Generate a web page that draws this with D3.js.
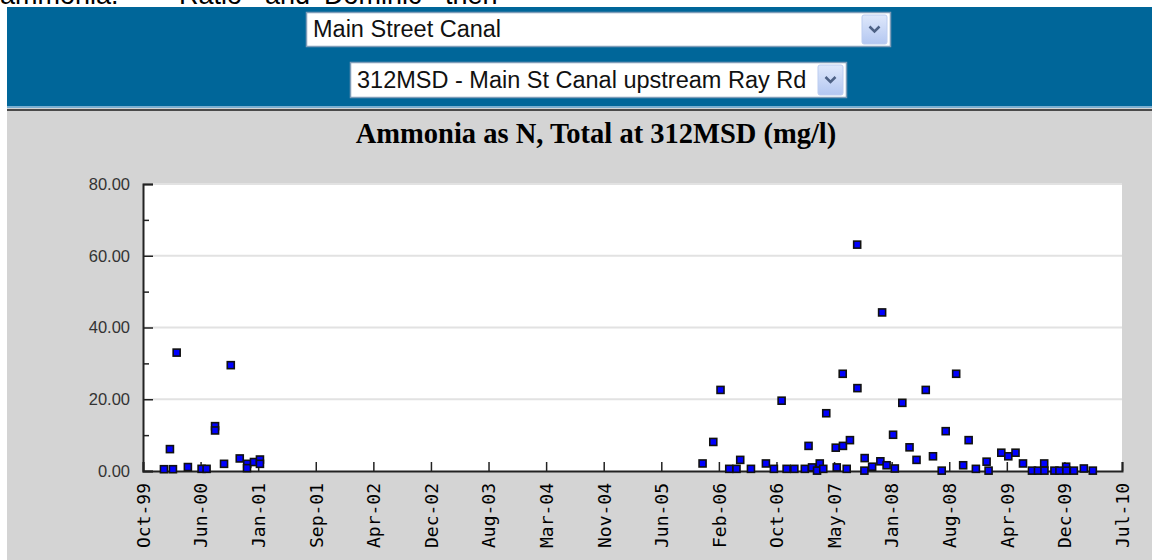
<!DOCTYPE html>
<html>
<head>
<meta charset="utf-8">
<script src="https://cdn.jsdelivr.net/npm/d3@7"></script>
<style>
  html, body { margin: 0; padding: 0; background: #ffffff; }
  svg { display: block; }
</style>
</head>
<body>
<svg id="chart" width="1152" height="560"></svg>
<script>
// ---------------- data ----------------
const chartTitle = "Ammonia as N, Total at 312MSD (mg/l)";
const selectOne = "Main Street Canal";
const selectTwo = "312MSD - Main St Canal upstream Ray Rd";
const topWords = [
  { text: "ammonia.", x: 0 },
  { text: "\u201CRatio\u201D", x: 170 },
  { text: "and", x: 265 },
  { text: "\u201CDominic\u201D", x: 315 },
  { text: "then", x: 445 }
];

const sampleDates = [
  "1999-12-24", "2000-01-29", "2000-01-17", "2000-02-13", "2000-03-29",
  "2000-05-23", "2000-06-12", "2000-07-16", "2000-07-16", "2000-08-21",
  "2000-09-17", "2000-10-23", "2000-11-22", "2000-11-21", "2000-12-19",
  "2001-01-12", "2001-01-12",
  "2005-11-22", "2006-01-04", "2006-02-02", "2006-03-09", "2006-04-07",
  "2006-04-22", "2006-06-04", "2006-08-03", "2006-09-04", "2006-10-05",
  "2006-10-25", "2006-11-25", "2007-01-06", "2007-01-21", "2007-02-04",
  "2007-02-24", "2007-03-07", "2007-03-21", "2007-04-02", "2007-05-10",
  "2007-05-14", "2007-06-08", "2007-06-07", "2007-06-23", "2007-07-06",
  "2007-08-04", "2007-08-05", "2007-09-03", "2007-09-02", "2007-10-03",
  "2007-11-05", "2007-11-12", "2007-11-30", "2007-12-26", "2008-01-02",
  "2008-02-01", "2008-03-01", "2008-03-29", "2008-05-05", "2008-06-03",
  "2008-07-08", "2008-07-24", "2008-09-04", "2008-10-02", "2008-10-24",
  "2008-11-22", "2009-01-04", "2009-01-12", "2009-03-04", "2009-04-01",
  "2009-04-30", "2009-05-30", "2009-07-05", "2009-07-29", "2009-08-23",
  "2009-08-24", "2009-10-03", "2009-10-23", "2009-11-19", "2009-11-20",
  "2009-12-20", "2010-01-29", "2010-03-06"
];
const ammoniaValues = [
  0.5, 0.5, 6.1, 33.0, 1.1,
  0.6, 0.6, 12.5, 11.3, 2.0,
  29.5, 3.5, 2.0, 0.8, 2.5,
  3.2, 2.0,
  2.1, 8.1, 22.6, 0.6, 0.6,
  3.1, 0.6, 2.1, 0.6, 19.6,
  0.6, 0.6, 0.6, 7.0, 1.0,
  0.1, 2.1, 0.6, 16.1, 6.5,
  1.0, 7.0, 27.1, 0.6, 8.6,
  63.1, 23.1, 3.6, 0.1, 1.2,
  2.7, 44.2, 1.6, 10.1, 0.7,
  19.0, 6.6, 3.1, 22.6, 4.1,
  0.1, 11.1, 27.1, 1.6, 8.6,
  0.6, 2.6, 0.1, 5.1, 4.1,
  5.1, 2.1, 0.1, 0.1, 2.1,
  0.1, 0.1, 0.1, 1.2, 0.1,
  0.1, 0.7, 0.1
];

const xDomain = ["1999-10-01", "2010-07-01"];
const xTickLabels = ["Oct-99", "Jun-00", "Jan-01", "Sep-01", "Apr-02", "Dec-02",
  "Aug-03", "Mar-04", "Nov-04", "Jun-05", "Feb-06", "Oct-06", "May-07",
  "Jan-08", "Aug-08", "Apr-09", "Dec-09", "Jul-10"];
const yMajorTicks = [0, 20, 40, 60, 80];
const yMinorTicks = [10, 30, 50, 70];
const yGridTicks = [20, 40, 60, 80];

// ---------------- drawing ----------------
const svg = d3.select("#chart");
const parse = d3.timeParse("%Y-%m-%d");
const points = sampleDates.map((d, i) => ({ date: parse(d), value: ammoniaValues[i] }));

// top clipped text
const topG = svg.append("g");
topG.selectAll("text").data(topWords).join("text")
  .attr("x", d => d.x).attr("y", 4)
  .attr("font-family", "Liberation Sans, Arial, sans-serif")
  .attr("font-size", 27).attr("fill", "#000")
  .text(d => d.text);

// header band
svg.append("rect").attr("x", 7).attr("y", 7).attr("width", 1145).attr("height", 100).attr("fill", "#006699");
svg.append("rect").attr("x", 7).attr("y", 106).attr("width", 1145).attr("height", 2).attr("fill", "#7aaed0");
svg.append("rect").attr("x", 7).attr("y", 108).attr("width", 1145).attr("height", 452).attr("fill", "#d4d4d4");
svg.append("rect").attr("x", 7).attr("y", 109).attr("width", 1145).attr("height", 2).attr("fill", "#4a4a4a");

function drawSelect(x, y, w, h, label) {
  const g = svg.append("g");
  g.append("rect").attr("x", x + 0.5).attr("y", y + 0.5).attr("width", w).attr("height", h)
    .attr("fill", "#ffffff").attr("stroke", "#7f9db9").attr("stroke-width", 1.5);
  g.append("text").attr("x", x + 7).attr("y", y + h / 2 + 8)
    .attr("font-family", "Liberation Sans, Arial, sans-serif").attr("font-size", 23.5)
    .attr("fill", "#111").text(label);
  const bx = x + w - 28, by = y + 3, bw = 25, bh = h - 5;
  const gradId = "grad" + x;
  const grad = svg.append("defs").append("linearGradient").attr("id", gradId)
    .attr("x1", 0).attr("y1", 0).attr("x2", 0).attr("y2", 1);
  grad.append("stop").attr("offset", "0%").attr("stop-color", "#dfe8fb");
  grad.append("stop").attr("offset", "100%").attr("stop-color", "#b3c7f1");
  g.append("rect").attr("x", bx).attr("y", by).attr("width", bw).attr("height", bh)
    .attr("rx", 2).attr("fill", `url(#${gradId})`).attr("stroke", "#bccdf0");
  const cx = bx + bw / 2, cy = by + bh / 2;
  g.append("path").attr("d", `M${cx - 5},${cy - 3} L${cx},${cy + 2} L${cx + 5},${cy - 3}`)
    .attr("fill", "none").attr("stroke", "#4d6185").attr("stroke-width", 2.5);
}
drawSelect(306, 12, 584, 34, selectOne);
drawSelect(350, 62, 496, 35, selectTwo);

// title
svg.append("text").attr("x", 596).attr("y", 143).attr("text-anchor", "middle")
  .attr("font-family", "Liberation Serif, Times New Roman, serif").attr("font-weight", "bold")
  .attr("font-size", 28.5).attr("fill", "#000").text(chartTitle);

// plot area
const plotL = 143, plotR = 1122, plotT = 184, plotB = 471;
const x = d3.scaleTime().domain(xDomain.map(parse)).range([plotL, plotR]);
const y = d3.scaleLinear().domain([0, 80]).range([plotB, plotT]);

svg.append("rect").attr("x", plotL).attr("y", plotT).attr("width", plotR - plotL).attr("height", plotB - plotT)
  .attr("fill", "#ffffff");

// grid
svg.append("g").selectAll("line").data(yGridTicks).join("line")
  .attr("x1", plotL).attr("x2", plotR).attr("y1", d => y(d)).attr("y2", d => y(d))
  .attr("stroke", "#e2e2e2").attr("stroke-width", 2);

// x axis
const d0 = x.domain()[0].getTime(), d1 = x.domain()[1].getTime();
const xTickDates = xTickLabels.map((_, i) => new Date(d0 + i * (d1 - d0) / (xTickLabels.length - 1)));
const xAxis = d3.axisBottom(x).tickValues(xTickDates).tickSize(-9)
  .tickFormat((d, i) => xTickLabels[i]);
const gx = svg.append("g").attr("transform", `translate(0,${plotB})`).call(xAxis);
gx.select(".domain").attr("stroke", "#222").attr("stroke-width", 2);
gx.selectAll(".tick line").attr("stroke", "#222").attr("stroke-width", 1.5);
gx.selectAll(".tick text")
  .attr("transform", "rotate(-90)")
  .attr("x", -12).attr("y", 0).attr("dy", "0.35em")
  .attr("text-anchor", "end")
  .attr("font-family", "DejaVu Sans Mono, monospace").attr("font-size", 18).attr("fill", "#000");

// y axis
const yAxis = d3.axisLeft(y).tickValues(yMajorTicks).tickSize(-10).tickPadding(13)
  .tickFormat(d3.format(".2f"));
const gy = svg.append("g").attr("transform", `translate(${plotL},0)`).call(yAxis);
gy.select(".domain").attr("stroke", "#222").attr("stroke-width", 2);
gy.selectAll(".tick line").attr("stroke", "#222").attr("stroke-width", 1.5);
gy.selectAll(".tick text")
  .attr("font-family", "Liberation Sans, Arial, sans-serif").attr("font-size", 16.5).attr("fill", "#333");

const yMinor = d3.axisLeft(y).tickValues(yMinorTicks).tickSize(-6).tickFormat("");
const gym = svg.append("g").attr("transform", `translate(${plotL},0)`).call(yMinor);
gym.select(".domain").remove();
gym.selectAll(".tick line").attr("stroke", "#222").attr("stroke-width", 1.5);

// points
const s = 7;
svg.append("g").selectAll("rect").data(points).join("rect")
  .attr("x", d => x(d.date) - s / 2).attr("y", d => y(d.value) - s / 2)
  .attr("width", s).attr("height", s)
  .attr("fill", "#0000ff").attr("stroke", "#111").attr("stroke-width", 1.6);
</script>
</body>
</html>
